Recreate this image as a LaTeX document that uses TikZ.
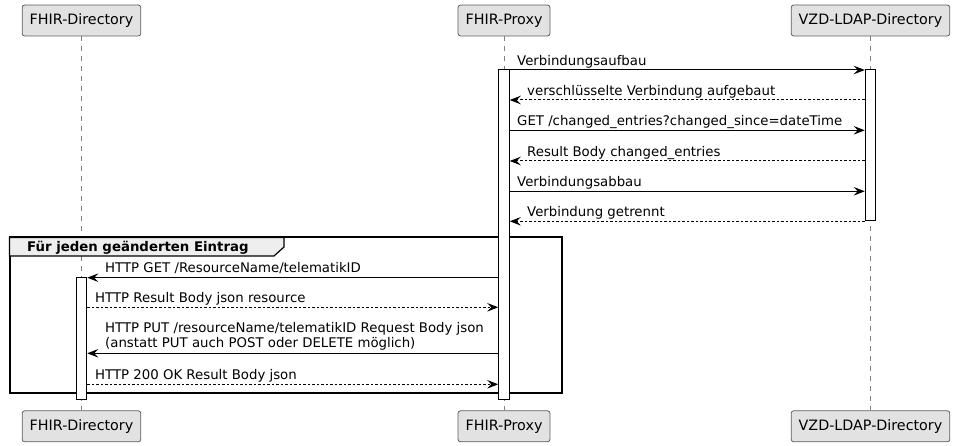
\documentclass[tikz,border=0pt]{standalone}
\usepackage{fontspec}
\setmainfont{DejaVu Sans}
\usetikzlibrary{arrows.meta,positioning}
\definecolor{partfill}{HTML}{E2E2E2}
\definecolor{partdraw}{HTML}{5E5E5E}
\definecolor{lifegray}{HTML}{808080}
\definecolor{grpfill}{HTML}{EEEEEE}

\begin{document}
\begin{tikzpicture}[
  x=1pt, y=-1pt,
  >={Stealth[length=11pt, width=8.5pt, inset=4pt]},
  part/.style={draw=partdraw, fill=partfill, rounded corners=2.5pt, line width=0.8pt,
    minimum height=31pt, inner xsep=7.5pt, font=\fontsize{14.3}{16}\selectfont},
  act/.style={draw, fill=white, line width=1pt, minimum width=10.5pt, inner sep=0pt},
  life/.style={draw=lifegray, line width=0.8pt, dash pattern=on 5pt off 5pt},
  msg/.style={->, line width=1pt},
  ret/.style={->, line width=1pt, dash pattern=on 2.5pt off 2pt},
  lbl/.style={font=\fontsize{13.3}{15}\selectfont, anchor=base west, inner sep=0pt, align=left},
  grplbl/.style={font=\bfseries\fontsize{13.3}{15}\selectfont, anchor=base west, inner sep=0pt}]

\useasboundingbox (0,0) rectangle (956,446);

% participants (haut et bas)
\node[part] (pDirT) at (81.5,20.5) {FHIR-Directory};
\node[part] (pProxyT) at (504,20.5) {FHIR-Proxy};
\node[part] (pVzdT) at (870.5,20.5) {VZD-LDAP-Directory};
\node[part, below=374pt of pDirT] (pDirB) {FHIR-Directory};
\node[part, below=374pt of pProxyT] (pProxyB) {FHIR-Proxy};
\node[part, below=374pt of pVzdT] (pVzdB) {VZD-LDAP-Directory};

\draw[life] (pDirT) -- (pDirB);
\draw[life] (pProxyT) -- (pProxyB);
\draw[life] (pVzdT) -- (pVzdB);

% cadre du groupe
\draw[line width=2pt] (9.5,237.5) rectangle (561.5,392.5);
\draw[fill=grpfill, line width=1.2pt] (9.5,237.5) -- (284,237.5) -- (284,247) -- (274,256) -- (9.5,256) -- cycle;
\node[grplbl] (tGrp) at (27,251.5) {Für jeden geänderten Eintrag};

% barres d'activation
\node[act, minimum height=329pt] (proxyAct) at (504,234.5) {};
\node[act, minimum height=151pt] (vzdAct) at (870.5,145.5) {};
\node[act, minimum height=121.5pt] (dirAct) at (81.5,338.5) {};

\coordinate (m1) at (0,70);
\coordinate (m2) at (0,100);
\coordinate (m3) at (0,130.3);
\coordinate (m4) at (0,161);
\coordinate (m5) at (0,191.3);
\coordinate (m6) at (0,221.3);
\coordinate (m7) at (0,277.7);
\coordinate (m8) at (0,307.3);
\coordinate (m9) at (0,353.3);
\coordinate (m10) at (0,384.3);

\draw[msg] (proxyAct.east |- m1) -- (vzdAct.west |- m1);
\node[lbl] (t1) at (517,65.3) {Verbindungsaufbau};
\draw[ret] (vzdAct.west |- m2) -- (proxyAct.east |- m2);
\node[lbl] (t2) at (527,95.3) {verschlüsselte Verbindung aufgebaut};
\draw[msg] (proxyAct.east |- m3) -- (vzdAct.west |- m3);
\node[lbl] (t3) at (517,125.6) {GET /changed\_entries?changed\_since=dateTime};
\draw[ret] (vzdAct.west |- m4) -- (proxyAct.east |- m4);
\node[lbl] (t4) at (527,156.3) {Result Body changed\_entries};
\draw[msg] (proxyAct.east |- m5) -- (vzdAct.west |- m5);
\node[lbl] (t5) at (517,186.6) {Verbindungsabbau};
\draw[ret] (vzdAct.west |- m6) -- (proxyAct.east |- m6);
\node[lbl] (t6) at (527,216.6) {Verbindung getrennt};

\draw[msg] (proxyAct.west |- m7) -- (dirAct.east |- m7);
\node[lbl] (t7) at (105,272.7) {HTTP GET /ResourceName/telematikID};
\draw[ret] (dirAct.east |- m8) -- (proxyAct.west |- m8);
\node[lbl] (t8) at (95,302.5) {HTTP Result Body json resource};
\draw[msg] (proxyAct.west |- m9) -- (dirAct.east |- m9);
\node[lbl] (t9) at (105,348) {HTTP PUT /resourceName/telematikID Request Body json\\(anstatt PUT auch POST oder DELETE möglich)};
\draw[ret] (dirAct.east |- m10) -- (proxyAct.west |- m10);
\node[lbl] (t10) at (95,379.5) {HTTP 200 OK Result Body json};

\end{tikzpicture}
\end{document}
